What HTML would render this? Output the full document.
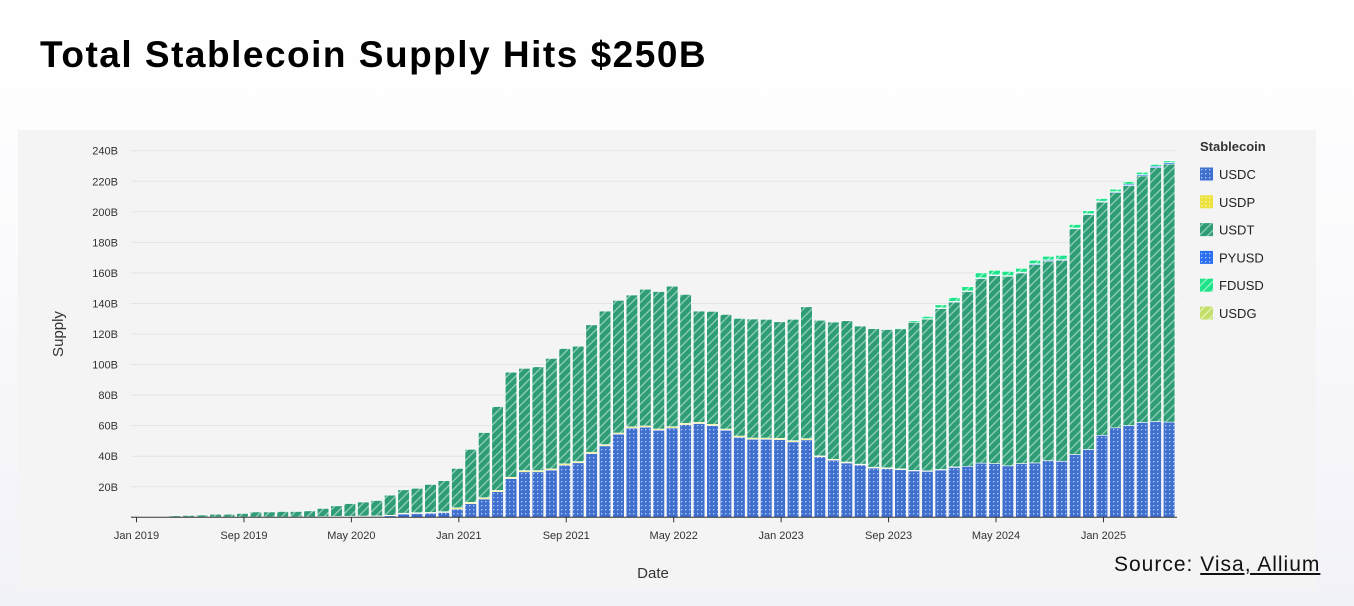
<!DOCTYPE html>
<html><head><meta charset="utf-8">
<style>
html,body{margin:0;padding:0;}
body{width:1354px;height:606px;overflow:hidden;background:linear-gradient(180deg,#ffffff 0%,#fbfbfd 40%,#f1f1f8 100%);font-family:"Liberation Sans",sans-serif;position:relative;}
#title{position:absolute;left:40px;top:34px;font-size:37px;font-weight:bold;color:#000;letter-spacing:1.5px;}
#panel{position:absolute;left:18px;top:130px;width:1298px;height:460px;background:#f4f4f4;}
#chart{position:absolute;left:0;top:0;}
#source{position:absolute;left:1114px;top:553px;font-size:21px;color:#111;letter-spacing:1px;}
#source u{text-decoration:underline;}
</style></head>
<body>
<div id="title">Total Stablecoin Supply Hits $250B</div>
<div id="panel"></div>
<svg id="chart" width="1354" height="606">
<defs>
<pattern id="p-usdc" width="4" height="4" patternUnits="userSpaceOnUse"><rect width="4" height="4" fill="#3f6fcf"/><rect x="1" y="1" width="1.3" height="1.3" fill="#b9cdf2"/></pattern>
<pattern id="p-usdp" width="4" height="4" patternUnits="userSpaceOnUse"><rect width="4" height="4" fill="#ece33e"/><rect x="1" y="1" width="1.3" height="1.3" fill="#faf6b0"/></pattern>
<pattern id="p-pyusd" width="4" height="4" patternUnits="userSpaceOnUse"><rect width="4" height="4" fill="#2a6ff0"/><rect x="1" y="1" width="1.3" height="1.3" fill="#b5cdfa"/></pattern>
<pattern id="p-usdt" width="6" height="6" patternUnits="userSpaceOnUse" patternTransform="rotate(45)"><rect width="6" height="6" fill="#2e9d76"/><rect x="0" y="0" width="1.2" height="6" fill="#9bd3bd"/></pattern>
<pattern id="p-fdusd" width="6" height="6" patternUnits="userSpaceOnUse" patternTransform="rotate(45)"><rect width="6" height="6" fill="#1de488"/><rect x="0" y="0" width="1.2" height="6" fill="#a5f5cf"/></pattern>
<pattern id="p-usdg" width="6" height="6" patternUnits="userSpaceOnUse" patternTransform="rotate(45)"><rect width="6" height="6" fill="#c3df6a"/><rect x="0" y="0" width="1.2" height="6" fill="#e8f3c0"/></pattern>
</defs>
<g id="grid"></g><g id="bars"></g><g id="axes"></g><g id="legend"></g>
</svg>
<div id="source">Source: <u>Visa, Allium</u></div>
<script>
const months = ["Jan","Feb","Mar","Apr","May","Jun","Jul","Aug","Sep","Oct","Nov","Dec"];
const yTicks = [20,40,60,80,100,120,140,160,180,200,220,240];
const xTickIdx = [0,8,16,24,32,40,48,56,64,72];
const usdc = [0.1,0.1,0.1,0.1,0.1,0.1,0.2,0.2,0.2,0.2,0.2,0.2,0.2,0.2,0.2,0.3,0.4,0.5,0.6,1.0,2.2,2.5,2.7,3.2,5.4,9.0,12.0,16.8,25.4,29.8,29.8,30.9,34.2,35.7,41.8,46.8,54.4,58.4,59.0,57.0,58.5,60.7,61.4,60.1,57.0,52.4,51.1,51.1,50.9,49.4,50.7,39.6,37.4,35.6,34.3,32.3,31.9,31.2,30.4,30.1,31.0,32.7,33.4,35.5,35.2,33.7,35.2,35.6,37.1,36.7,41.1,44.4,53.7,58.6,60.1,62.1,62.7,62.3];
const usdp = [0,0,0,0,0,0,0,0,0,0,0,0,0,0,0.3,0.3,0.3,0.3,0.3,0.3,0.5,0.5,0.5,0.5,0.8,0.8,0.8,0.8,0.8,0.8,0.8,0.8,0.8,0.8,0.8,0.8,0.8,0.8,0.8,0.8,0.8,0.8,0.8,0.8,0.8,0.8,0.8,0.8,0.8,0.8,0.8,0.6,0.6,0.6,0.5,0.5,0.5,0.5,0.3,0.3,0.3,0.3,0,0,0,0,0,0,0,0,0,0,0,0,0,0,0,0];
const usdt = [0.5,0.3,0.3,0.9,1.1,1.4,1.8,1.8,2.3,3.3,3.3,3.6,3.6,4.0,5.3,6.9,8.3,9.2,10.1,13.2,15.3,16,18.3,20.3,25.8,34.7,42.7,54.9,68.8,66.9,67.9,72.3,75.5,75.5,83.4,87.4,86.8,86.3,89.5,90,92,84.4,72.8,73.9,75,77,77.9,77.7,76.3,79.4,86.3,88.8,89.8,92.5,90.4,90.7,90.6,91.7,97,99.3,105.4,107.9,114.3,120.8,123,124.1,124.8,129.8,130.7,131.6,147.8,153.8,152.7,154,157.2,161.4,166.2,169];
const pyusd = [0,0,0,0,0,0,0,0,0,0,0,0,0,0,0,0,0,0,0,0,0,0,0,0,0,0,0,0,0,0,0,0,0,0,0,0,0,0,0,0,0,0,0,0,0,0,0,0,0,0,0,0,0,0,0,0,0,0,0,0.3,0.4,0.5,0.5,0.5,0.5,0.4,0.5,0.6,0.7,0.6,0.5,0.5,0.5,0.6,0.8,0.8,0.9,0.9];
const fdusd = [0,0,0,0,0,0,0,0,0,0,0,0,0,0,0,0,0,0,0,0,0,0,0,0,0,0,0,0,0,0,0,0,0,0,0,0,0,0,0,0,0,0,0,0,0,0,0,0,0,0,0,0,0,0,0,0,0.3,0.5,1,1.5,2,2.5,2.8,3.2,3,2.8,2.5,2.3,2.4,2.6,2.3,2,1.8,1.6,1.7,1.6,1.3,1.2];
const usdg = [0,0,0,0,0,0,0,0,0,0,0,0,0,0,0,0,0,0,0,0,0,0,0,0,0,0,0,0,0,0,0,0,0,0,0,0,0,0,0,0,0,0,0,0,0,0,0,0,0,0,0,0,0,0,0,0,0,0,0,0,0,0,0,0,0,0,0,0,0,0,0,0,0,0,0,0.1,0.2,0.3];
const seriesNames = ["USDC","USDP","USDT","PYUSD","FDUSD","USDG"];
const seriesData = [usdc,usdp,usdt,pyusd,fdusd,usdg];
const fills = ["url(#p-usdc)","url(#p-usdp)","url(#p-usdt)","url(#p-pyusd)","url(#p-fdusd)","url(#p-usdg)"];

const NS="http://www.w3.org/2000/svg";
const X0=135, DX=13.43, Y0=517.3, YSCALE=(517.3-150.7)/240, BW=11.6;
function xPos(i){return X0+DX*i;}
function yPos(v){return Y0-v*YSCALE;}
function el(tag,attrs,parent,txt){const e=document.createElementNS(NS,tag);for(const k in attrs)e.setAttribute(k,attrs[k]);if(txt!==undefined)e.textContent=txt;parent.appendChild(e);return e;}
const grid=document.getElementById('grid'),bars=document.getElementById('bars'),axes=document.getElementById('axes'),legend=document.getElementById('legend');
yTicks.forEach(t=>{
  const l=el('line',{x1:131,x2:1177,y1:yPos(t),y2:yPos(t),stroke:'#e3e3e3','stroke-width':1},grid);
  
  
  const tx=el('text',{x:118,y:yPos(t)+4,'text-anchor':'end','font-size':11,fill:'#333','font-family':'Liberation Sans'},axes,t+'B');
  
  
});
usdc.forEach((_,i)=>{
  let base=0;
  seriesData.forEach((s,k)=>{
    const v=s[i]; if(v<=0) return;
    const r=el('rect',{x:xPos(i)-BW/2,y:yPos(base+v),width:BW,height:v*YSCALE,fill:fills[k],stroke:'#ffffff','stroke-width':0.6},bars);
    
    
    base+=v;
  });
});
const ax=el('line',{x1:131,x2:1177,y1:Y0,y2:Y0,stroke:'#333','stroke-width':1},axes);


xTickIdx.forEach(i=>{
  const tk=el('line',{x1:xPos(i)+1.5,x2:xPos(i)+1.5,y1:Y0,y2:Y0+5,stroke:'#333'},axes);
  
  
  const lbl=months[i%12]+' '+(2019+Math.floor(i/12));
  const tx=el('text',{x:xPos(i)+1.5,y:539,'text-anchor':'middle','font-size':11,fill:'#333','font-family':'Liberation Sans'},axes,lbl);
  
  
});
const xt=el('text',{x:653,y:578,'text-anchor':'middle','font-size':15,fill:'#333','font-family':'Liberation Sans'},axes,'Date');


const yt=el('text',{x:0,y:0,'text-anchor':'middle','font-size':15,fill:'#333','font-family':'Liberation Sans',transform:'translate(63,334) rotate(-90)'},axes,'Supply');


const lt=el('text',{x:1200,y:151,'font-size':13,'font-weight':'bold',fill:'#333','font-family':'Liberation Sans'},legend,'Stablecoin');


seriesNames.forEach((n,k)=>{
  const cy=174+k*27.8;
  const g=el('g',{},legend);
  
  
  el('rect',{x:1200,y:cy-6.5,width:13,height:13,fill:fills[k]},g);
  el('text',{x:1219,y:cy+5,'font-size':13,fill:'#222','font-family':'Liberation Sans'},g,n);
});
</script>
</body></html>
